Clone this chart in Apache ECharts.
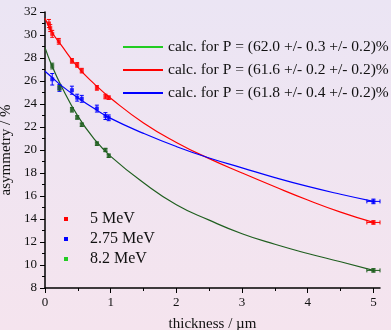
<!DOCTYPE html>
<html>
<head>
<meta charset="utf-8">
<script src="https://cdn.jsdelivr.net/npm/echarts@6/dist/echarts.min.js"></script>
<style>
  html, body { margin: 0; padding: 0; }
  body { background: linear-gradient(#ebe5f4, #f5e4ee); }
  #chart { width: 391px; height: 330px; }
</style>
</head>
<body>
<div id="chart"></div>
<script>
// fitted curves
const fitX = [0, 0.1, 0.25, 0.5, 0.75, 1, 1.5, 2, 2.5, 3, 3.5, 4, 4.5, 5];
const fitRed = [31.45, 30.3, 29.1, 27.2, 25.75, 24.5, 22.35, 20.66, 19.25, 18.0, 16.8, 15.65, 14.6, 13.7];
const fitBlue = [26.85, 26.35, 25.6, 24.55, 23.6, 22.75, 21.45, 20.3, 19.3, 18.45, 17.6, 16.83, 16.15, 15.53];
const fitGreen = [28.9, 27.4, 25.55, 22.95, 20.95, 19.45, 17.15, 15.24, 13.9, 12.72, 11.8, 11.0, 10.28, 9.53];

// measured points
const xRed = [0.06, 0.08, 0.11, 0.21, 0.41, 0.49, 0.56, 0.79, 0.92, 0.97, 5.0];
const yRed = [31.0, 30.6, 30.1, 29.45, 27.75, 27.4, 26.9, 25.4, 24.65, 24.55, 13.7];
const eRed = [0.35, 0.3, 0.3, 0.25, 0.2, 0.2, 0.2, 0.2, 0.2, 0.15, 0.15];
const xMeas = [0.11, 0.22, 0.41, 0.49, 0.56, 0.79, 0.92, 0.97, 5.0];
const yBlue = [26.15, 25.4, 25.2, 24.55, 24.45, 23.6, 22.95, 22.8, 15.53];
const eBlue = [0.5, 0.3, 0.35, 0.3, 0.3, 0.3, 0.3, 0.25, 0.2];
const yGreen = [27.3, 25.4, 23.5, 22.83, 22.2, 20.55, 20.0, 19.5, 9.53];
const eGreen = [0.25, 0.2, 0.2, 0.15, 0.15, 0.15, 0.15, 0.15, 0.15];
const xErrLast = 0.1;

const fitNames = [
  'calc. for P = (62.0 +/- 0.3 +/- 0.2)%',
  'calc. for P = (61.6 +/- 0.2 +/- 0.2)%',
  'calc. for P = (61.8 +/- 0.4 +/- 0.2)%'
];
const dataNames = ['5 MeV', '2.75 MeV', '8.2 MeV'];
const xTicks = [0, 1, 2, 3, 4, 5];
const xMinor = [0.5, 1.5, 2.5, 3.5, 4.5];

const serif = '"Liberation Serif", "DejaVu Serif", serif';
const RED = '#ff0000', BLUE = '#0000ff', DKGREEN = '#1f5f1f', LTGREEN = '#22cc22';

const zip = (xs, ys) => xs.map((x, i) => [x, ys[i]]);
const errData = (xs, ys, es) => xs.map((x, i) => [x, ys[i], es[i], i === xs.length - 1 ? xErrLast : 0]);

function errRender(color) {
  return function (params, api) {
    const x = api.value(0), y = api.value(1), ey = api.value(2), ex = api.value(3);
    const kids = [];
    const style = { stroke: color, lineWidth: 1 };
    const top = api.coord([x, y + ey]), bot = api.coord([x, y - ey]);
    kids.push({ type: 'line', shape: { x1: top[0], y1: top[1], x2: bot[0], y2: bot[1] }, style });
    kids.push({ type: 'line', shape: { x1: top[0] - 2, y1: top[1], x2: top[0] + 2, y2: top[1] }, style });
    kids.push({ type: 'line', shape: { x1: bot[0] - 2, y1: bot[1], x2: bot[0] + 2, y2: bot[1] }, style });
    if (ex > 0) {
      const l = api.coord([x - ex, y]), r = api.coord([x + ex, y]);
      kids.push({ type: 'line', shape: { x1: l[0], y1: l[1], x2: r[0], y2: r[1] }, style });
      kids.push({ type: 'line', shape: { x1: l[0], y1: l[1] - 2, x2: l[0], y2: l[1] + 2 }, style });
      kids.push({ type: 'line', shape: { x1: r[0], y1: r[1] - 2, x2: r[0], y2: r[1] + 2 }, style });
    }
    return { type: 'group', children: kids };
  };
}

const chart = echarts.init(document.getElementById('chart'));
chart.setOption({
  backgroundColor: 'transparent',
  animation: false,
  textStyle: { fontFamily: serif, color: '#111' },
  grid: { left: 45, right: 11, top: 12, bottom: 42, containLabel: false, outerBoundsMode: 'none' },
  legend: [
    {
      data: [
        { name: fitNames[0], itemStyle: { color: LTGREEN } },
        { name: fitNames[1] },
        { name: fitNames[2] }
      ],
      orient: 'vertical', left: 123, top: 39, itemGap: 7, padding: 0,
      icon: 'rect', itemWidth: 40, itemHeight: 2,
      textStyle: { fontFamily: serif, fontSize: 15.5, color: '#111' }
    },
    {
      data: [
        { name: dataNames[0] },
        { name: dataNames[1] },
        { name: dataNames[2], itemStyle: { color: LTGREEN } }
      ],
      orient: 'vertical', left: 64, top: 211, itemGap: 4, padding: 0,
      icon: 'rect', itemWidth: 4, itemHeight: 4,
      textStyle: { fontFamily: serif, fontSize: 16, color: '#111', padding: [0, 0, 0, 17] }
    }
  ],
  xAxis: [
    {
      type: 'value', min: 0, max: 5.1,
      name: 'thickness / µm', nameLocation: 'middle', nameGap: 29,
      nameTextStyle: { fontFamily: serif, fontSize: 15, color: '#111' },
      axisLine: { lineStyle: { color: '#000', width: 1.5 } },
      axisTick: { customValues: xTicks, length: 5, lineStyle: { color: '#000' } },
      axisLabel: { customValues: xTicks, fontFamily: serif, fontSize: 13, color: '#111', margin: 8 },
      splitLine: { show: false }
    },
    {
      type: 'value', min: 0, max: 5.1, position: 'bottom',
      axisLine: { show: false },
      axisTick: { customValues: xMinor, length: 3, lineStyle: { color: '#000' } },
      axisLabel: { show: false },
      splitLine: { show: false }
    }
  ],
  yAxis: {
    type: 'value', min: 8, max: 32, interval: 2,
    name: 'asymmetry / %', nameLocation: 'middle', nameGap: 30,
    nameTextStyle: { fontFamily: serif, fontSize: 15, color: '#111' },
    axisLine: { show: true, lineStyle: { color: '#000', width: 1.5 } },
    axisTick: { show: true, length: 5, lineStyle: { color: '#000' } },
    minorTick: { show: true, splitNumber: 2, length: 3, lineStyle: { color: '#000' } },
    axisLabel: { fontFamily: serif, fontSize: 13, color: '#111', margin: 8 },
    splitLine: { show: false }
  },
  series: [
    { name: fitNames[0], type: 'line', data: zip(fitX, fitGreen), smooth: true, showSymbol: false,
      color: DKGREEN, lineStyle: { width: 1.2, color: DKGREEN } },
    { name: fitNames[1], type: 'line', data: zip(fitX, fitRed), smooth: true, showSymbol: false,
      color: RED, lineStyle: { width: 1.2, color: RED } },
    { name: fitNames[2], type: 'line', data: zip(fitX, fitBlue), smooth: true, showSymbol: false,
      color: BLUE, lineStyle: { width: 1.2, color: BLUE } },
    { name: dataNames[0], type: 'custom', renderItem: errRender(RED), data: errData(xRed, yRed, eRed), color: RED },
    { name: dataNames[1], type: 'custom', renderItem: errRender(BLUE), data: errData(xMeas, yBlue, eBlue), color: BLUE },
    { name: dataNames[2], type: 'custom', renderItem: errRender(DKGREEN), data: errData(xMeas, yGreen, eGreen), color: DKGREEN },
    { name: dataNames[0], type: 'scatter', symbol: 'rect', symbolSize: 4, data: zip(xRed, yRed), color: RED },
    { name: dataNames[1], type: 'scatter', symbol: 'rect', symbolSize: 4, data: zip(xMeas, yBlue), color: BLUE },
    { name: dataNames[2], type: 'scatter', symbol: 'rect', symbolSize: 4, data: zip(xMeas, yGreen), color: DKGREEN }
  ]
});
</script>
</body>
</html>
